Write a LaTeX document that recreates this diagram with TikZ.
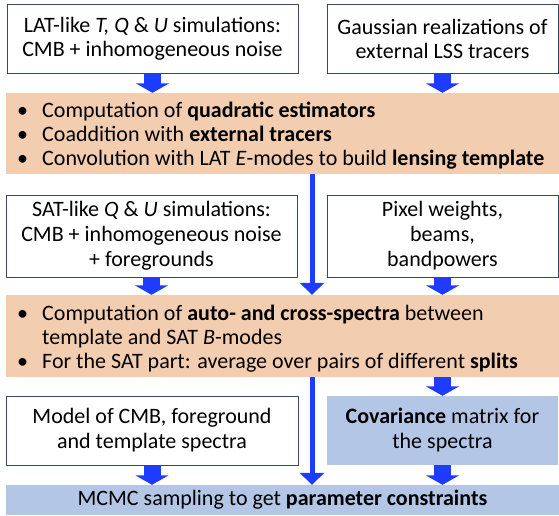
\documentclass[tikz,border=0pt]{standalone}
\usepackage{fontspec}
\setmainfont{Carlito}
\usetikzlibrary{arrows.meta}
\definecolor{boxline}{HTML}{3A4766}
\definecolor{peach}{HTML}{F3CDAF}
\definecolor{lblue}{HTML}{B4C6E6}
\definecolor{arrblue}{HTML}{1E3CFF}
\tikzset{
  txt/.style={font=\fontsize{22}{24}\selectfont, inner sep=0pt, align=center},
  wide/.style={font=\fontsize{22}{25}\selectfont},
  wbox/.style={txt, draw=boxline, line width=0.9pt, fill=white},
  bbox/.style={txt, fill=lblue},
  blockarr/.style={draw=arrblue, line width=17pt, -{Triangle[width=33pt,length=9.5pt]}},
  longarr/.style={draw=arrblue, line width=5pt, -{Triangle[width=24pt,length=12pt]}},
}
\newcommand{\bul}{\makebox[25pt][l]{\textbullet}}
\newcommand{\ind}{\hspace*{25pt}}
\begin{document}
\begin{tikzpicture}[x=1pt,y=-1pt]
\useasboundingbox (0,0) rectangle (559,515);
% row 1
\node[wbox, minimum width=291pt, minimum height=69pt] (b1) at (152.5,38.5)
  {LAT-like \textit{T, Q} \& \textit{U} simulations:\\CMB + inhomogeneous noise};
\node[wbox, minimum width=231pt, minimum height=69pt] (b2) at (442.5,38.5)
  {Gaussian realizations of\\external LSS tracers};
% orange 1
\node[fill=peach, minimum width=553pt, minimum height=81pt, inner sep=0pt] (o1) at (282.5,133.5) {};
\node[txt, align=left, anchor=west] (o1t) at (17,136)
  {\bul Computation of \textbf{quadratic estimators}\\
   \bul Coaddition with \textbf{external tracers}\\
   \bul Convolution with LAT \textit{E}-modes to build \textbf{lensing template}};
% row 2
\node[wbox, wide, minimum width=291pt, minimum height=82pt] (b3) at (151.5,236)
  {SAT-like \textit{Q} \& \textit{U} simulations:\\CMB + inhomogeneous noise\\+ foregrounds};
\node[wbox, wide, minimum width=231pt, minimum height=82pt] (b4) at (442.5,236)
  {Pixel weights,\\beams,\\bandpowers};
% orange 2
\node[fill=peach, minimum width=553pt, minimum height=82pt, inner sep=0pt] (o2) at (282.5,336) {};
\node[txt, align=left, anchor=west] (o2t) at (17,339)
  {\bul Computation of \textbf{auto- and cross-spectra} between\\
   \ind template and SAT \textit{B}-modes\\
   \bul For the SAT part: average over pairs of different \textbf{splits}};
% row 3
\node[wbox, wide, minimum width=292pt, minimum height=69pt] (b5) at (152,430.5)
  {Model of CMB, foreground\\and template spectra};
\node[bbox, wide, minimum width=231pt, minimum height=69pt] (b6) at (442.5,430.5)
  {\textbf{Covariance} matrix for\\the spectra};
% MCMC
\node[bbox, minimum width=553pt, minimum height=30pt] (m) at (282.5,500)
  {MCMC sampling to get \textbf{parameter constraints}};
% arrows
\coordinate (L) at (312,0);
\draw[blockarr] (b1.south) -- (b1.south |- o1.north);
\draw[blockarr] (b2.south) -- (b2.south |- o1.north);
\draw[longarr] (L |- o1.south) -- (L |- o2.north);
\draw[blockarr] (b3.south) -- (b3.south |- o2.north);
\draw[blockarr] (b4.south) -- (b4.south |- o2.north);
\draw[blockarr] (b6.north |- o2.south) -- (b6.north);
\draw[longarr] (L |- o2.south) -- (L |- m.north);
\draw[blockarr] (b5.south) -- (b5.south |- m.north);
\draw[blockarr] (b6.south) -- (b6.south |- m.north);
\end{tikzpicture}
\end{document}
